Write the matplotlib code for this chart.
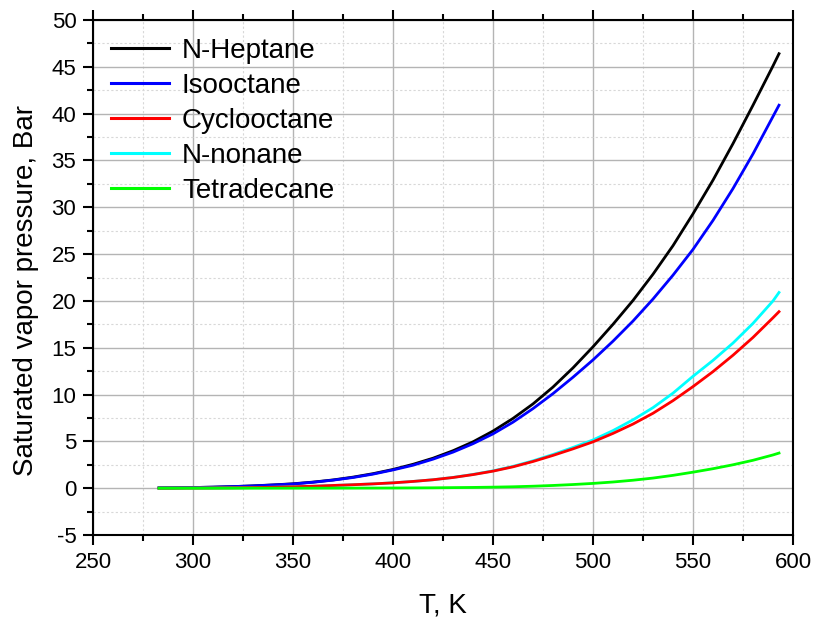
import matplotlib
matplotlib.use('Agg')
import matplotlib.pyplot as plt
from matplotlib.ticker import MultipleLocator

plt.rcParams['font.family'] = ['Liberation Sans', 'DejaVu Sans']
plt.rcParams['axes.unicode_minus'] = False

# Temperature, K
temps = [283, 290, 300, 310, 320, 330, 340, 350, 360, 370, 380, 390, 400, 410, 420,
         430, 440, 450, 460, 470, 480, 490, 500, 510, 520, 530, 540, 550, 560, 570,
         580, 590, 593]

# Saturated vapor pressure, Bar
heptane = [0.03, 0.04, 0.07, 0.11, 0.17, 0.25, 0.35, 0.47, 0.65, 0.88, 1.18, 1.55, 2.0,
           2.55, 3.2, 4.0, 4.95, 6.1, 7.45, 9.0, 10.8, 12.85, 15.1, 17.5, 20.05, 22.85,
           25.9, 29.3, 32.9, 36.8, 40.9, 45.1, 46.4]
isooctane = [0.03, 0.04, 0.07, 0.11, 0.17, 0.24, 0.34, 0.45, 0.63, 0.86, 1.14, 1.5, 1.95,
             2.45, 3.1, 3.85, 4.75, 5.8, 7.05, 8.5, 10.1, 11.85, 13.7, 15.7, 17.85, 20.2,
             22.75, 25.5, 28.6, 32.0, 35.7, 39.7, 40.9]
cyclooctane = [0.005, 0.008, 0.015, 0.025, 0.04, 0.065, 0.1, 0.15, 0.21, 0.29, 0.37, 0.46,
               0.57, 0.72, 0.9, 1.14, 1.45, 1.82, 2.28, 2.85, 3.5, 4.2, 4.95, 5.85, 6.85,
               8.0, 9.35, 10.85, 12.45, 14.2, 16.1, 18.2, 18.85]
nonane = [0.005, 0.008, 0.015, 0.025, 0.04, 0.065, 0.1, 0.15, 0.21, 0.29, 0.37, 0.46,
          0.57, 0.72, 0.9, 1.15, 1.47, 1.85, 2.33, 2.92, 3.6, 4.35, 5.15, 6.15, 7.3, 8.6,
          10.15, 11.95, 13.65, 15.5, 17.6, 20.0, 20.9]
tetradecane = [0.0, 0.0, 0.0, 0.0, 0.0, 0.0, 0.001, 0.002, 0.004, 0.006, 0.009, 0.014,
               0.02, 0.03, 0.04, 0.06, 0.08, 0.11, 0.15, 0.21, 0.29, 0.39, 0.51, 0.66, 0.85,
               1.08, 1.37, 1.71, 2.08, 2.5, 2.98, 3.55, 3.75]

names = ['N-Heptane', 'Isooctane', 'Cyclooctane', 'N-nonane', 'Tetradecane']
values = [heptane, isooctane, cyclooctane, nonane, tetradecane]
colors = ['#000000', '#0000ff', '#ff0000', '#00ffff', '#00ff00']
# which curve lies on top where they overlap
zorders = [2, 3, 5, 4, 6]

fig = plt.figure(figsize=(8.14, 6.2), dpi=100)
ax = fig.add_axes([93 / 814, 85 / 620, 700 / 814, 515 / 620])

for name, vals, col, z in zip(names, values, colors, zorders):
    ax.plot(temps, vals, color=col, linewidth=2.0, label=name, zorder=z)

ax.set_xlim(250, 600)
ax.set_ylim(-5, 50)
ax.xaxis.set_major_locator(MultipleLocator(50))
ax.xaxis.set_minor_locator(MultipleLocator(25))
ax.yaxis.set_major_locator(MultipleLocator(5))
ax.yaxis.set_minor_locator(MultipleLocator(2.5))

ax.grid(which='major', color='#b4b4b4', linewidth=1.0, linestyle='-')
ax.grid(which='minor', color='#d8d8d8', linewidth=0.8, linestyle=(0, (2, 2)))
ax.set_axisbelow(True)

for s in ax.spines.values():
    s.set_linewidth(1.5)

ax.tick_params(which='both', direction='out', width=1.5, top=True, right=False,
               labelsize=16, colors='black')
ax.tick_params(which='major', length=7, pad=5)
ax.tick_params(which='minor', length=4.5)

ax.set_xlabel('T, K', fontsize=20, labelpad=14)
ax.set_ylabel('Saturated vapor pressure, Bar', fontsize=20)
ax.yaxis.set_label_coords(-0.077, 0.475)

leg = ax.legend(loc='upper left', fontsize=20, frameon=False, handlelength=2.1,
                handletextpad=0.45, labelspacing=0.32, borderaxespad=0.25,
                bbox_to_anchor=(0.0, 1.0))
for line in leg.get_lines():
    line.set_linewidth(2.2)

fig.savefig('out.png', dpi=100)
